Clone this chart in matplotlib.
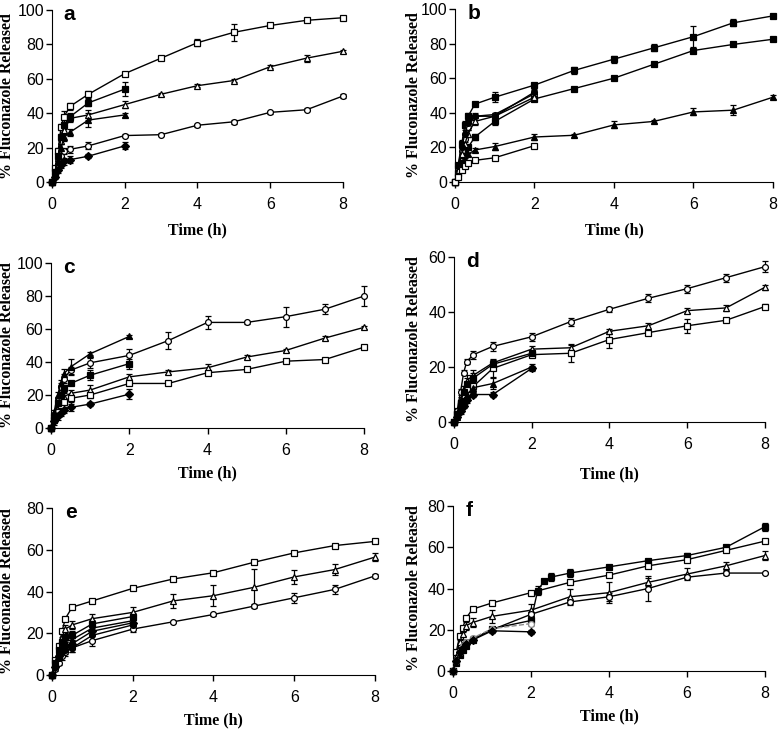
import matplotlib
matplotlib.use("Agg")
import matplotlib.pyplot as plt

# 1. Tempos de coleta (h)
t_long = [0, 0.08, 0.17, 0.25, 0.33, 0.5, 1, 2, 3, 4, 5, 6, 7, 8]
t_short = [0, 0.08, 0.17, 0.25, 0.33, 0.5, 1, 2]
t_f = [0, 0.08, 0.17, 0.25, 0.33, 0.5, 1, 2, 2.17, 2.33, 2.5, 3, 4, 5, 6, 7, 8]

# 2. Painel a
a_sq_open = [0, 8, 18, 32, 38, 44, 51, 63, 72, 81, 87, 91, 94, 95.5]
a_sq_open_err = [0, 1, 2, 2, 3, 2, 2, 1, 1, 2, 5, 1, 1, 1]
a_tri_open = [0, 5, 14, 24, 30, 37, 39, 45, 51, 56, 59, 67, 72, 76]
a_tri_open_err = [0, 1, 2, 2, 2, 2, 3, 2, 1, 1, 1, 1, 2, 1]
a_circ_open = [0, 4, 10, 15, 18, 19, 21, 27, 27.5, 33, 35, 40.5, 42, 50]
a_circ_open_err = [0, 1, 1, 2, 2, 2, 2, 1, 1, 1, 1, 1, 1, 1]
a_sq_fill = [0, 6, 15, 26, 33, 38, 46, 54]
a_sq_fill_err = [0, 1, 2, 2, 2, 2, 2, 4]
a_tri_fill = [0, 5, 12, 20, 26, 29, 36, 39]
a_tri_fill_err = [0, 1, 2, 2, 2, 2, 4, 1]
a_dia_fill = [0, 3, 7, 10, 12, 13, 15, 21]
a_dia_fill_err = [0, 1, 2, 2, 2, 2, 1, 2]

# 3. Painel b
b_sq_top = [0, 10, 22, 33, 38, 45, 49, 56, 64.5, 71, 77.5, 84, 92, 96]
b_sq_top_err = [0, 1, 2, 2, 2, 1, 3, 1, 2, 2, 2, 6, 2, 1]
b_sq_mid = [0, 5, 11, 16, 20, 26, 35, 48, 54, 60, 68, 76, 79.5, 82.5]
b_sq_mid_err = [0, 1, 1, 1, 1, 2, 2, 1, 1, 1, 1, 1, 1, 1]
b_tri_low = [0, 4, 9, 13, 16, 18.5, 20.5, 26, 27, 33, 35, 40.5, 41.5, 49]
b_tri_low_err = [0, 1, 1, 1, 1, 1, 2, 2, 1, 2, 1, 2, 3, 1]
b_circ_open = [0, 8, 18, 25, 32, 38, 39, 51]
b_circ_open_err = [0, 1, 2, 2, 2, 2, 1, 2]
b_tri_open = [0, 7, 16, 22, 28, 35, 38, 49]
b_tri_open_err = [0, 1, 2, 2, 2, 2, 2, 2]
b_circ_fill = [0, 9, 20, 28, 34, 38, 38, 52]
b_circ_fill_err = [0, 1, 2, 2, 2, 1, 1, 2]
b_dia_open = [0, 3, 7, 9, 11, 12.5, 14, 21]
b_dia_open_err = [0, 1, 1, 1, 1, 1, 1, 1]

# 4. Painel c
c_circ_open = [0, 8, 17, 25, 30, 35, 39.5, 44, 53, 64, 64, 67.5, 72, 80]
c_circ_open_err = [0, 1, 2, 2, 3, 2, 3, 4, 5, 4, 1, 6, 3, 6]
c_tri_open = [0, 6, 12, 16, 19, 21, 23, 31, 34, 36.5, 43, 47, 54.5, 61]
c_tri_open_err = [0, 1, 1, 2, 2, 2, 3, 2, 1, 2, 1, 1, 1, 1]
c_sq_open = [0, 5, 10, 14, 16, 18, 20, 27, 27, 33.5, 35.5, 40.5, 41.5, 49]
c_sq_open_err = [0, 1, 1, 2, 2, 2, 2, 1, 1, 1, 1, 1, 1, 1]
c_tri_fill = [0, 10, 20, 27, 33, 37, 45, 55.5]
c_tri_fill_err = [0, 1, 2, 2, 3, 5, 1, 1]
c_sq_fill = [0, 7, 15, 20, 24, 27, 32, 39]
c_sq_fill_err = [0, 1, 2, 2, 2, 1, 3, 3]
c_dia_fill = [0, 4, 7, 9, 11, 12.5, 14.5, 20.5]
c_dia_fill_err = [0, 2, 2, 2, 2, 2, 1, 3]

# 5. Painel d
d_circ_open = [0, 4, 11, 18, 22, 24.5, 27.5, 31, 36.5, 41, 45, 48.5, 52.5, 56.5]
d_circ_open_err = [0, 1, 1, 1, 1, 1.5, 1.5, 1.5, 1.5, 1, 1.5, 1.5, 1.5, 2]
d_tri_open = [0, 3, 8, 12, 15, 17, 21.5, 26.5, 27, 33, 35, 40.5, 41.5, 49]
d_tri_open_err = [0, 1, 1, 1, 2, 2, 1, 1, 1.5, 1, 1, 1, 1, 1]
d_sq_open = [0, 3, 7, 10, 12, 13, 19.5, 24.5, 25, 30, 32.5, 35, 37, 42]
d_sq_open_err = [0, 1, 1, 1, 1, 2, 3, 1, 3, 3, 1, 2.5, 0.5, 1]
d_sq_fill = [0, 3, 7, 11, 14, 16, 21, 25]
d_sq_fill_err = [0, 1, 1, 2, 2, 2, 2, 1]
d_tri_fill = [0, 2, 5, 8, 10, 12.5, 14, 20]
d_tri_fill_err = [0, 1, 1, 1, 2, 2, 2, 1]
d_dia_fill = [0, 2, 4, 6, 8, 10, 10, 19.5]
d_dia_fill_err = [0, 1, 1, 1, 1, 1, 1, 1]

# 6. Painel e
e_sq_open = [0, 7, 14, 21, 27, 32.5, 35.5, 41.5, 46, 49, 54, 58.5, 62, 64]
e_sq_open_err = [0, 1, 1, 1, 1, 1, 0.5, 0.5, 0.5, 0.5, 0.5, 0.5, 0.5, 0.5]
e_tri_open = [0, 6, 12, 18, 22, 24, 27, 30, 35.5, 38, 42, 47, 50.5, 56.5]
e_tri_open_err = [0, 1, 1, 2, 2, 2, 2, 2.5, 3.5, 5, 9, 3.5, 2.5, 2]
e_circ_open = [0, 3, 6, 9, 11, 13, 16.5, 22, 25.5, 29, 33, 37, 41, 47.5]
e_circ_open_err = [0, 1, 1, 2, 2, 2, 2.5, 1.5, 0.5, 0.5, 1, 2.5, 2, 1]
e_sq_fill = [0, 6, 12, 16, 18, 19, 24.5, 28]
e_tri_fill = [0, 5, 10, 14, 16, 17, 22.5, 26]
e_dia_fill = [0, 4, 9, 12, 14, 15, 21, 25]
e_circ_fill = [0, 4, 8, 11, 12, 13, 19, 24]
e_short_err = [0, 1, 2, 2, 2, 2, 2, 1.5]

# 7. Painel f
f_sq_fill = [0, 4, 8, 10, 12, 15, 20.5, 24.5, 39, 43.5, 45.5, 47.5, 50.5, 53.5, 56, 60, 70]
f_sq_fill_err = [0, 1, 1, 1, 1, 1, 1, 2, 2, 1, 2, 2, 1, 1, 1, 1, 2]
f_sq_open = [0, 9, 17, 21, 25.5, 30, 33, 38, 43, 46.5, 51, 54, 58.5, 63]
f_sq_open_err = [0, 1, 1, 1, 1, 1, 1, 1, 1, 1, 1, 1, 1, 1]
f_tri_open = [0, 7, 14, 18, 22, 23.5, 26.5, 29.5, 36, 38, 43, 47, 51, 56]
f_tri_open_err = [0, 1, 1, 1, 2, 2, 3, 3, 4, 5, 2, 3, 2, 2]
f_circ_open = [0, 5, 10, 12, 14, 15.5, 20, 27.5, 33.5, 36, 40, 45.5, 47.5, 47.5]
f_circ_open_err = [0, 1, 1, 1, 1, 1, 1, 1, 1, 2, 6, 1, 1, 0.5]
f_dia_fill = [0, 5, 9, 11, 13, 15, 19.5, 19]
f_dia_fill_err = [0, 1, 1, 1, 1, 1, 1, 1]
f_gray = [0, 5, 9, 12, 14, 16, 20.5, 23]
f_gray_err = [0, 1, 1, 1, 1, 1, 1, 1]

FIG_W = 778


def serie(ax, t, y, err, marker, filled, color='black', ls='-'):
    face = color if filled else 'white'
    ax.errorbar(t, y, yerr=err, color=color, ls=ls, lw=1.0,
                marker=marker, ms=4.2, mfc=face, mec=color, mew=0.9,
                ecolor=color, elinewidth=0.9, capsize=2.2, capthick=0.9,
                clip_on=False, zorder=3)


def painel(ax, letra, ymax, ystep, ylab_off, xlab_pad):
    ax.set_xlim(0, 8)
    ax.set_ylim(0, ymax)
    ax.set_xticks(range(0, 9, 2))
    ax.set_yticks(range(0, ymax + 1, ystep))
    for s in ['top', 'right']:
        ax.spines[s].set_visible(False)
    ax.tick_params(direction='out', length=4, width=1, labelsize=11.5)
    ax.tick_params(axis='x', pad=7)
    ax.tick_params(axis='y', pad=1.5)
    for lab in ax.get_xticklabels() + ax.get_yticklabels():
        lab.set_family('Liberation Sans')
    ax.set_xlabel('Time (h)', family='Liberation Serif', fontweight='bold',
                  fontsize=11.5, labelpad=xlab_pad)
    ax.set_ylabel('% Fluconazole Released', family='Liberation Serif',
                  fontweight='bold', fontsize=11.5)
    # posição do rótulo y em pixels a partir do eixo
    largura = ax.get_position().width * FIG_W
    ax.yaxis.set_label_coords(-ylab_off / largura, 0.5)
    ax.text(0.04, 1.03, letra, transform=ax.transAxes, ha='left', va='top',
            family='Liberation Sans', fontweight='bold', fontsize=15)


fig = plt.figure(figsize=(7.78, 7.30), dpi=100)
ax_a = fig.add_axes([0.0668, 0.7507, 0.374, 0.2356])
ax_b = fig.add_axes([0.5848, 0.7507, 0.4087, 0.237])
ax_c = fig.add_axes([0.0656, 0.4137, 0.4023, 0.226])
ax_d = fig.add_axes([0.5835, 0.4219, 0.3997, 0.226])
ax_e = fig.add_axes([0.0668, 0.0753, 0.4152, 0.2288])
ax_f = fig.add_axes([0.5823, 0.0808, 0.401, 0.226])

# a
serie(ax_a, t_long, a_sq_open, a_sq_open_err, 's', False)
serie(ax_a, t_long, a_tri_open, a_tri_open_err, '^', False)
serie(ax_a, t_long, a_circ_open, a_circ_open_err, 'o', False)
serie(ax_a, t_short, a_sq_fill, a_sq_fill_err, 's', True)
serie(ax_a, t_short, a_tri_fill, a_tri_fill_err, '^', True)
serie(ax_a, t_short, a_dia_fill, a_dia_fill_err, 'D', True)
painel(ax_a, 'a', 100, 20, 37, 7)

# b
serie(ax_b, t_long, b_sq_top, b_sq_top_err, 's', True)
serie(ax_b, t_long, b_sq_mid, b_sq_mid_err, 's', True)
serie(ax_b, t_long, b_tri_low, b_tri_low_err, '^', True)
serie(ax_b, t_short, b_circ_open, b_circ_open_err, 'o', False)
serie(ax_b, t_short, b_tri_open, b_tri_open_err, '^', False)
serie(ax_b, t_short, b_circ_fill, b_circ_fill_err, 'o', True)
serie(ax_b, t_short, b_dia_open, b_dia_open_err, 's', False)
painel(ax_b, 'b', 100, 20, 33, 7)

# c
serie(ax_c, t_long, c_circ_open, c_circ_open_err, 'o', False)
serie(ax_c, t_long, c_tri_open, c_tri_open_err, '^', False)
serie(ax_c, t_long, c_sq_open, c_sq_open_err, 's', False)
serie(ax_c, t_short, c_tri_fill, c_tri_fill_err, '^', True)
serie(ax_c, t_short, c_sq_fill, c_sq_fill_err, 's', True)
serie(ax_c, t_short, c_dia_fill, c_dia_fill_err, 'D', True)
painel(ax_c, 'c', 100, 20, 36, 5)

# d
serie(ax_d, t_long, d_circ_open, d_circ_open_err, 'o', False)
serie(ax_d, t_long, d_tri_open, d_tri_open_err, '^', False)
serie(ax_d, t_long, d_sq_open, d_sq_open_err, 's', False)
serie(ax_d, t_short, d_sq_fill, d_sq_fill_err, 's', True)
serie(ax_d, t_short, d_tri_fill, d_tri_fill_err, '^', True)
serie(ax_d, t_short, d_dia_fill, d_dia_fill_err, 'D', True)
painel(ax_d, 'd', 60, 20, 32, 10)

# e
serie(ax_e, t_long, e_sq_open, e_sq_open_err, 's', False)
serie(ax_e, t_long, e_tri_open, e_tri_open_err, '^', False)
serie(ax_e, t_long, e_circ_open, e_circ_open_err, 'o', False)
serie(ax_e, t_short, e_sq_fill, e_short_err, 's', True)
serie(ax_e, t_short, e_tri_fill, e_short_err, '^', True)
serie(ax_e, t_short, e_dia_fill, e_short_err, 'D', True)
serie(ax_e, t_short, e_circ_fill, e_short_err, 'o', True)
painel(ax_e, 'e', 80, 20, 37, 5)

# f
serie(ax_f, t_f, f_sq_fill, f_sq_fill_err, 's', True)
serie(ax_f, t_long, f_sq_open, f_sq_open_err, 's', False)
serie(ax_f, t_long, f_tri_open, f_tri_open_err, '^', False)
serie(ax_f, t_long, f_circ_open, f_circ_open_err, 'o', False)
serie(ax_f, t_short, f_gray, f_gray_err, 'o', False, color='0.55', ls='--')
serie(ax_f, t_short, f_dia_fill, f_dia_fill_err, 'D', True)
painel(ax_f, 'f', 80, 20, 31, 5)

fig.savefig('out.png', dpi=100)
